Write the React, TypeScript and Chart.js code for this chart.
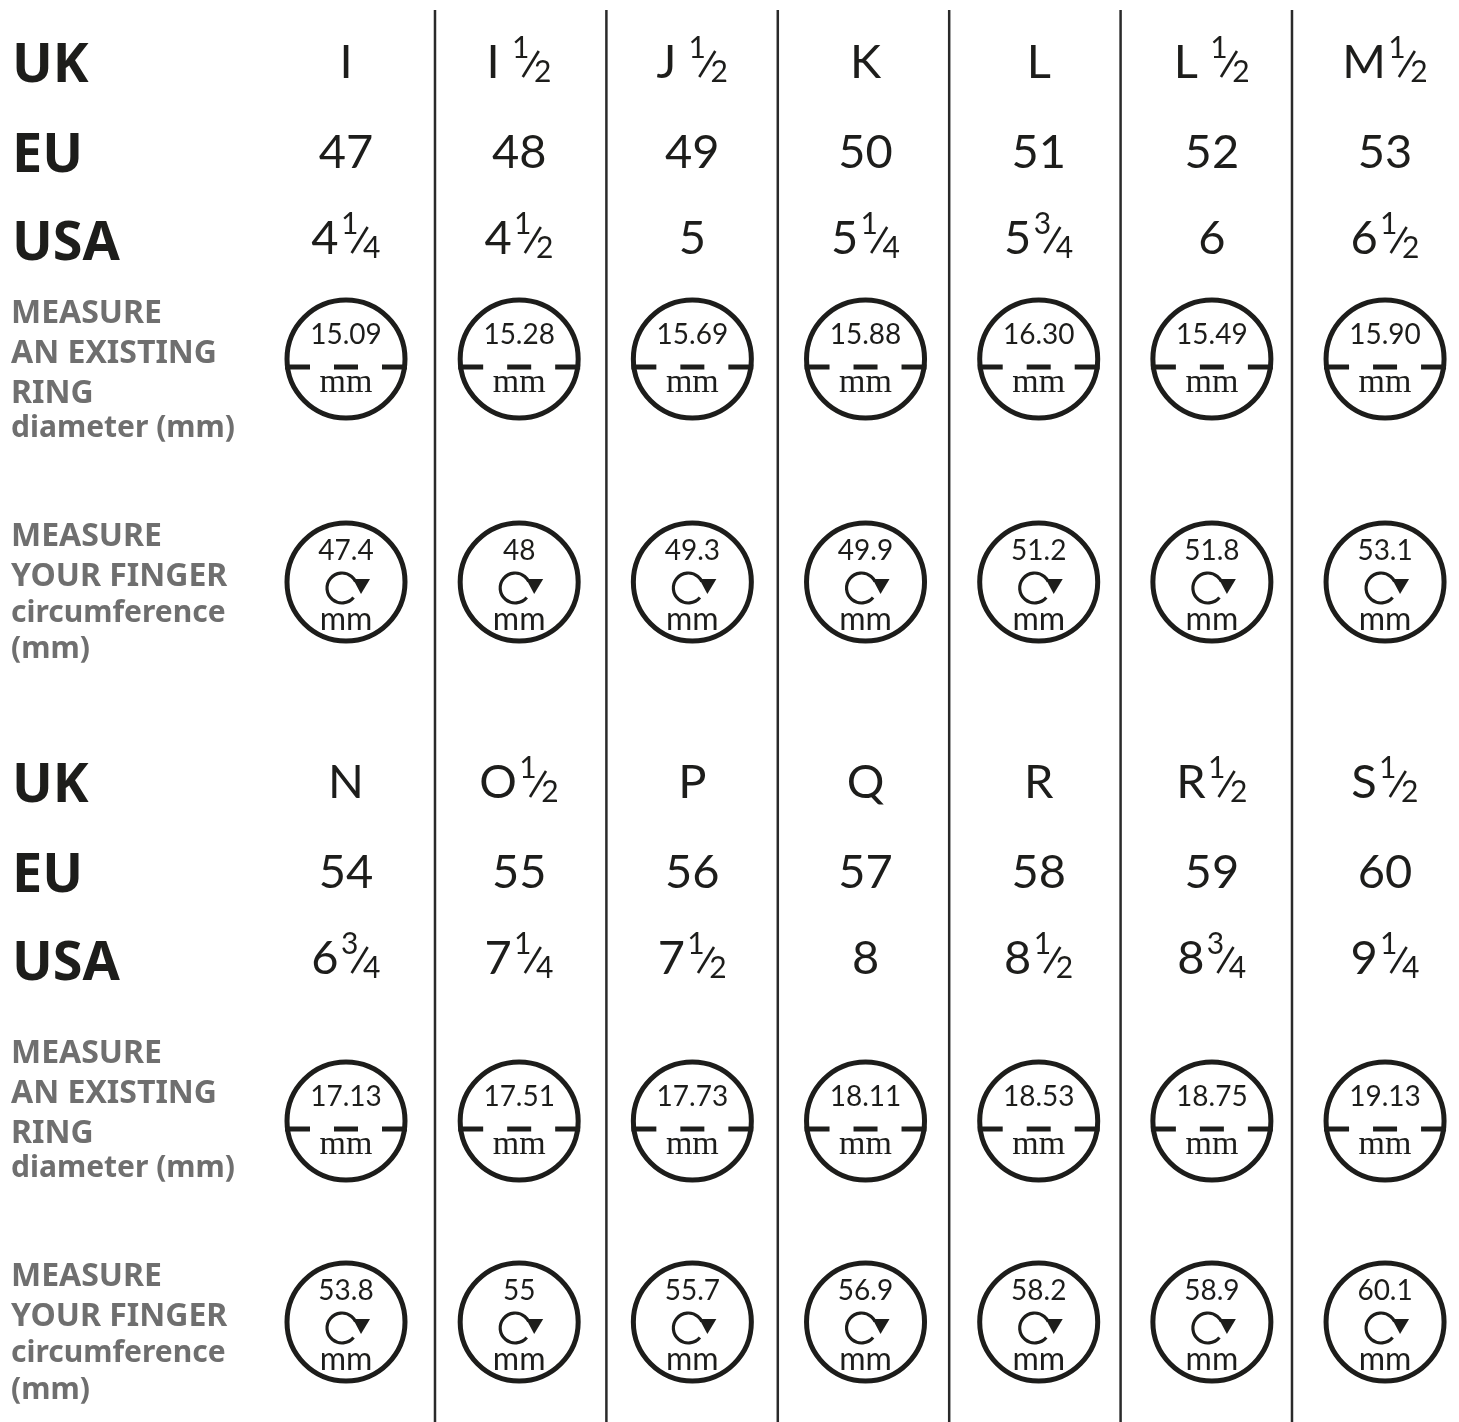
import { useEffect, useRef } from "react";
import { Chart, registerables } from "chart.js";

Chart.register(...registerables);

// ---------------- DATA ----------------
const rowLabels = ["UK", "EU", "USA"];
const ringLabelLines = ["MEASURE", "AN EXISTING", "RING", "diameter (mm)"];
const fingerLabelLines = ["MEASURE", "YOUR FINGER", "circumference", "(mm)"];

const ukSizes = ["I", "I ½", "J ½", "K", "L", "L ½", "M½", "N", "O½", "P", "Q", "R", "R½", "S½"];
const euSizes = ["47", "48", "49", "50", "51", "52", "53", "54", "55", "56", "57", "58", "59", "60"];
const usaSizes = ["4¼", "4½", "5", "5¼", "5¾", "6", "6½", "6¾", "7¼", "7½", "8", "8½", "8¾", "9¼"];
const ringDiameters = [15.09, 15.28, 15.69, 15.88, 16.3, 15.49, 15.9, 17.13, 17.51, 17.73, 18.11, 18.53, 18.75, 19.13];
const fingerCircumferences = [47.4, 48, 49.3, 49.9, 51.2, 51.8, 53.1, 53.8, 55, 55.7, 56.9, 58.2, 58.9, 60.1];
const unitLabel = "mm";

// ---------------- LAYOUT ----------------
const W = 1459;
const H = 1422;
const COLS = 7;
const BLOCK_SHIFT = 720;
const valueBaselines = [78, 168, 254];
const labelBaselines = [82, 172, 260];
const ringCenters = [359, 1121];
const fingerCenters = [582, 1322];
const ringLabelBaselines = [[323, 363, 403, 437], [1063, 1103, 1143, 1177]];
const fingerLabelBaselines = [[546, 586, 622, 658], [1286, 1326, 1362, 1399]];
const dividers = [1, 2, 3, 4, 5, 6];

const INK = "#1d1d1b";
const GRAY = "#6f6f6f";
const SANS = '"Noto Sans", "DejaVu Sans", sans-serif';
const VALUE = 'Lato, "Noto Sans", sans-serif';
const SERIF = '"Liberation Serif", "DejaVu Serif", serif';

const fracMap: Record<string, [string, string]> = { "½": ["1", "2"], "¼": ["1", "4"], "¾": ["3", "4"] };

function drawSize(ctx: CanvasRenderingContext2D, text: string, cx: number, base: number) {
  const m = text.match(/^(.*?)(\s?)([¼½¾])$/);
  ctx.fillStyle = INK;
  ctx.textBaseline = "alphabetic";
  ctx.font = `400 47px ${VALUE}`;
  if (!m) {
    ctx.textAlign = "center";
    ctx.fillText(text, cx, base);
    return;
  }
  const main = m[1];
  const gap = m[2] ? 14 : 4;
  const [num, den] = fracMap[m[3]];
  const mainW = ctx.measureText(main).width;
  const fracW = 38;
  const total = mainW + gap + fracW;
  const x0 = cx - total / 2;
  ctx.textAlign = "left";
  ctx.fillText(main, x0, base);
  const fx = x0 + mainW + gap;
  ctx.font = `400 30px ${VALUE}`;
  ctx.textAlign = "center";
  ctx.fillText(num, fx + 7, base - 20);
  ctx.fillText(den, fx + 29, base + 4);
  ctx.strokeStyle = INK;
  ctx.lineWidth = 2.6;
  ctx.lineCap = "butt";
  ctx.beginPath();
  ctx.moveTo(fx + 9, base - 1);
  ctx.lineTo(fx + 25, base - 27);
  ctx.stroke();
}

const tablePlugin = {
  id: "ringTable",
  beforeDatasetsDraw(chart: any) {
    const ctx: CanvasRenderingContext2D = chart.ctx;
    const x2 = chart.scales.x2;
    const y = chart.scales.y;
    ctx.save();
    ctx.strokeStyle = "#2a2a2a";
    ctx.lineWidth = 2.5;
    dividers.forEach((d) => {
      const px = x2.getPixelForValue(d);
      ctx.beginPath();
      ctx.moveTo(px, y.getPixelForValue(10));
      ctx.lineTo(px, y.getPixelForValue(H));
      ctx.stroke();
    });
    ctx.restore();
  },
  afterDatasetsDraw(chart: any) {
    const ctx: CanvasRenderingContext2D = chart.ctx;
    const xs = chart.scales.x;
    const y = chart.scales.y;
    ctx.save();
    for (let b = 0; b < 2; b++) {
      ctx.fillStyle = INK;
      ctx.font = `700 54px ${SANS}`;
      ctx.textAlign = "left";
      ctx.textBaseline = "alphabetic";
      rowLabels.forEach((lab, r) => {
        ctx.fillText(lab, 12, y.getPixelForValue(labelBaselines[r] + b * BLOCK_SHIFT));
      });
      ctx.fillStyle = GRAY;
      const drawLines = (lines: string[], bases: number[]) => {
        lines.forEach((ln, i) => {
          const upper = ln === ln.toUpperCase() && /[A-Z]/.test(ln);
          ctx.font = `700 ${upper ? 32 : 30}px ${SANS}`;
          ctx.fillText(ln, 11, y.getPixelForValue(bases[i]));
        });
      };
      drawLines(ringLabelLines, ringLabelBaselines[b]);
      drawLines(fingerLabelLines, fingerLabelBaselines[b]);
      for (let c = 0; c < COLS; c++) {
        const k = b * COLS + c;
        const cx = xs.getPixelForValue(c);
        drawSize(ctx, ukSizes[k], cx, y.getPixelForValue(valueBaselines[0] + b * BLOCK_SHIFT));
        drawSize(ctx, euSizes[k], cx, y.getPixelForValue(valueBaselines[1] + b * BLOCK_SHIFT));
        drawSize(ctx, usaSizes[k], cx, y.getPixelForValue(valueBaselines[2] + b * BLOCK_SHIFT));
      }
    }
    const ringMeta = chart.getDatasetMeta(0);
    ringMeta.data.forEach((el: any, i: number) => {
      const { x, y: cy } = el.getProps(["x", "y"], true);
      ctx.strokeStyle = INK;
      ctx.lineWidth = 5;
      ctx.lineCap = "butt";
      [[-61, -36], [-12, 12], [36, 61]].forEach(([a, bb]) => {
        ctx.beginPath();
        ctx.moveTo(x + a, cy + 8);
        ctx.lineTo(x + bb, cy + 8);
        ctx.stroke();
      });
      ctx.fillStyle = INK;
      ctx.textAlign = "center";
      ctx.font = `400 28px ${VALUE}`;
      ctx.fillText(ringDiameters[i].toFixed(2), x, cy - 15);
      ctx.font = `400 34px ${SERIF}`;
      ctx.fillText(unitLabel, x, cy + 33);
    });
    const fingerMeta = chart.getDatasetMeta(1);
    fingerMeta.data.forEach((el: any, i: number) => {
      const { x, y: cy } = el.getProps(["x", "y"], true);
      ctx.fillStyle = INK;
      ctx.textAlign = "center";
      ctx.font = `400 28px ${VALUE}`;
      ctx.fillText(String(fingerCircumferences[i]), x, cy - 22);
      const ix = x - 4;
      const iy = cy + 6;
      ctx.strokeStyle = INK;
      ctx.lineWidth = 3.2;
      ctx.beginPath();
      ctx.arc(ix, iy, 15, 0.22 * Math.PI, 1.86 * Math.PI);
      ctx.stroke();
      ctx.beginPath();
      ctx.moveTo(ix + 11, iy - 9);
      ctx.lineTo(ix + 28, iy - 9);
      ctx.lineTo(ix + 19, iy + 6);
      ctx.closePath();
      ctx.fill();
      ctx.font = `400 32px ${VALUE}`;
      ctx.fillText(unitLabel, x, cy + 48);
    });
    ctx.restore();
  },
};

export default function App() {
  const ref = useRef<HTMLCanvasElement>(null);
  useEffect(() => {
    let chart: Chart | null = null;
    let cancelled = false;
    const make = () => {
      if (cancelled || !ref.current) return;
      const ringData = ringDiameters.map((_, k) => ({ x: k % COLS, y: ringCenters[Math.floor(k / COLS)] }));
      const fingerData = fingerCircumferences.map((_, k) => ({ x: k % COLS, y: fingerCenters[Math.floor(k / COLS)] }));
      const pointStyle = {
        pointRadius: 59,
        pointHoverRadius: 59,
        pointBorderWidth: 5,
        pointHoverBorderWidth: 5,
        pointBorderColor: INK,
        pointBackgroundColor: "rgba(255,255,255,0)",
        showLine: false,
        clip: false as const,
      };
      chart = new Chart(ref.current, {
        type: "scatter",
        data: {
          datasets: [
            { label: "diameter", data: ringData, ...pointStyle },
            { label: "circumference", data: fingerData, ...pointStyle },
          ],
        },
        options: {
          responsive: false,
          animation: false,
          events: [],
          layout: { padding: 0, autoPadding: false },
          plugins: { legend: { display: false }, tooltip: { enabled: false } },
          scales: {
            x: { type: "linear", display: false, min: -1.998, max: 6.427 },
            x2: { type: "linear", display: false, min: -1.5379, max: 6.9744 },
            y: { type: "linear", display: false, min: 0, max: H, reverse: true },
          },
        },
        plugins: [tablePlugin],
      });
    };
    const fonts = [`400 47px Lato`, `700 54px "Noto Sans"`, `400 34px "Liberation Serif"`];
    Promise.all(fonts.map((f) => document.fonts.load(f))).then(make, make);
    return () => {
      cancelled = true;
      if (chart) chart.destroy();
    };
  }, []);
  return (
    <div style={{ position: "absolute", left: 0, top: 0, width: W, height: H, background: "#fff" }}>
      <canvas ref={ref} width={W} height={H} style={{ display: "block", width: W, height: H }} />
    </div>
  );
}
